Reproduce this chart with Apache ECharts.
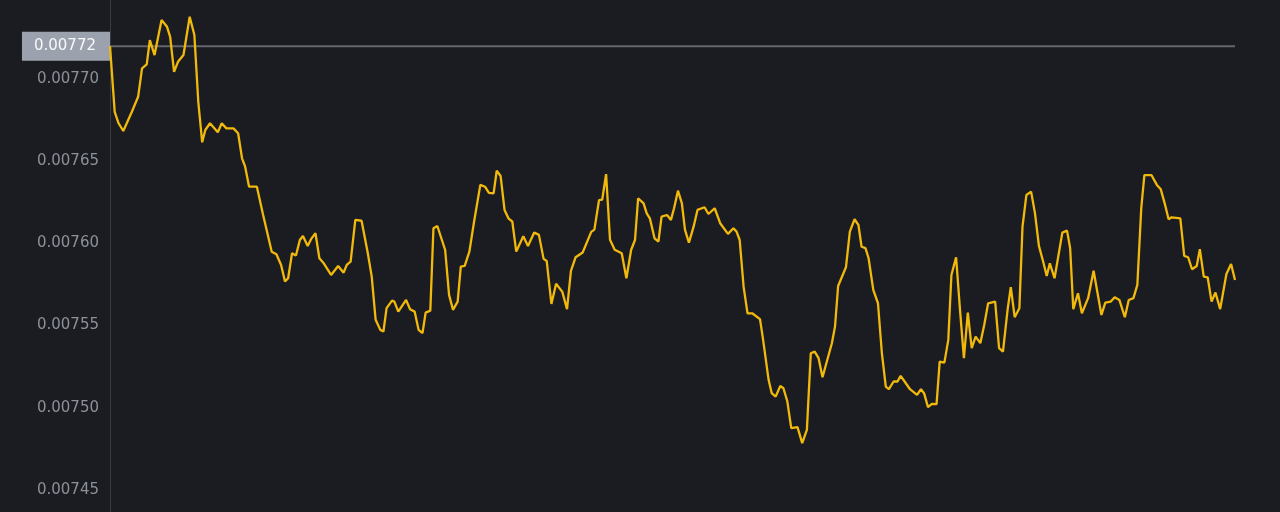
<!DOCTYPE html>
<html>
<head>
<meta charset="utf-8">
<title>price line</title>
<script src="https://cdn.jsdelivr.net/npm/echarts@6/dist/echarts.min.js"></script>
<style>
  html, body {
    margin: 0;
    padding: 0;
    background: #1b1c21;
  }
  #chart {
    width: 1280px;
    height: 512px;
  }
</style>
</head>
<body>
<div id="chart"></div>
<script>
// minutes since start of the 24h window
const minutes = [
  0, 6, 11, 17, 28, 36, 41, 47, 51, 57,
  66, 73, 77, 82, 87, 94, 102, 108, 113, 118,
  122, 128, 138, 143, 149, 158, 164, 169, 173, 178,
  188, 196, 207, 213, 219, 224, 228, 233, 238, 243,
  247, 253, 258, 263, 268, 273, 283, 292, 299, 303,
  308, 314, 322, 330, 335, 340, 346, 350, 354, 361,
  364, 369, 379, 384, 390, 395, 400, 404, 410, 414,
  419, 429, 434, 439, 445, 449, 454, 460, 466, 474,
  480, 485, 491, 495, 500, 505, 510, 515, 520, 529,
  535, 543, 549, 555, 559, 565, 571, 579, 585, 590,
  596, 605, 616, 620, 626, 630, 635, 640, 646, 655,
  661, 667, 672, 676, 683, 687, 691, 697, 702, 706,
  713, 718, 722, 727, 732, 736, 741, 747, 752, 761,
  766, 774, 781, 791, 798, 802, 806, 811, 816, 822,
  832, 836, 843, 847, 852, 858, 862, 867, 872, 880,
  886, 892, 897, 902, 907, 912, 924, 928, 932, 942,
  947, 953, 958, 962, 967, 971, 977, 983, 988, 993,
  997, 1003, 1008, 1012, 1018, 1024, 1033, 1038, 1042, 1047,
  1052, 1058, 1062, 1068, 1073, 1077, 1083, 1088, 1093, 1098,
  1103, 1108, 1114, 1119, 1124, 1133, 1138, 1143, 1149, 1153,
  1158, 1164, 1168, 1173, 1179, 1184, 1189, 1195, 1199, 1203,
  1209, 1219, 1225, 1229, 1233, 1239, 1244, 1252, 1259, 1269,
  1274, 1281, 1286, 1292, 1299, 1304, 1310, 1315, 1320, 1324,
  1333, 1340, 1345, 1350, 1355, 1359, 1370, 1375, 1380, 1385,
  1391, 1395, 1400, 1405, 1410, 1415, 1421, 1429, 1435, 1440
];

const prices = [
  0.0077200, 0.0076801, 0.0076731, 0.0076684, 0.0076801, 0.0076892, 0.0077065, 0.0077089, 0.0077237, 0.0077146,
  0.0077359, 0.0077318, 0.0077257, 0.0077044, 0.0077105, 0.0077146, 0.0077379, 0.0077268, 0.0076862, 0.0076615,
  0.0076690, 0.0076731, 0.0076676, 0.0076731, 0.0076700, 0.0076700, 0.0076670, 0.0076518, 0.0076467, 0.0076345,
  0.0076345, 0.0076173, 0.0075950, 0.0075934, 0.0075869, 0.0075768, 0.0075788, 0.0075940, 0.0075926, 0.0076021,
  0.0076045, 0.0075985, 0.0076031, 0.0076062, 0.0075910, 0.0075883, 0.0075808, 0.0075863, 0.0075822, 0.0075869,
  0.0075889, 0.0076143, 0.0076138, 0.0075940, 0.0075798, 0.0075535, 0.0075474, 0.0075464, 0.0075606, 0.0075652,
  0.0075646, 0.0075585, 0.0075656, 0.0075600, 0.0075585, 0.0075474, 0.0075454, 0.0075579, 0.0075591, 0.0076092,
  0.0076106, 0.0075960, 0.0075687, 0.0075596, 0.0075646, 0.0075859, 0.0075863, 0.0075950, 0.0076132, 0.0076356,
  0.0076345, 0.0076307, 0.0076305, 0.0076442, 0.0076410, 0.0076204, 0.0076153, 0.0076132, 0.0075950, 0.0076044,
  0.0075985, 0.0076067, 0.0076052, 0.0075906, 0.0075893, 0.0075632, 0.0075755, 0.0075705, 0.0075600, 0.0075833,
  0.0075916, 0.0075945, 0.0076070, 0.0076084, 0.0076264, 0.0076266, 0.0076422, 0.0076023, 0.0075962, 0.0075940,
  0.0075788, 0.0075960, 0.0076021, 0.0076275, 0.0076244, 0.0076183, 0.0076153, 0.0076031, 0.0076011, 0.0076163,
  0.0076173, 0.0076143, 0.0076214, 0.0076321, 0.0076244, 0.0076082, 0.0076005, 0.0076102, 0.0076204, 0.0076220,
  0.0076179, 0.0076214, 0.0076123, 0.0076058, 0.0076092, 0.0076072, 0.0076021, 0.0075737, 0.0075575, 0.0075575,
  0.0075539, 0.0075413, 0.0075170, 0.0075089, 0.0075068, 0.0075133, 0.0075119, 0.0075038, 0.0074876, 0.0074882,
  0.0074785, 0.0074866, 0.0075332, 0.0075342, 0.0075302, 0.0075186, 0.0075393, 0.0075494, 0.0075741, 0.0075855,
  0.0076072, 0.0076147, 0.0076112, 0.0075980, 0.0075971, 0.0075910, 0.0075717, 0.0075636, 0.0075332, 0.0075129,
  0.0075113, 0.0075160, 0.0075160, 0.0075194, 0.0075154, 0.0075113, 0.0075079, 0.0075113, 0.0075089, 0.0075004,
  0.0075024, 0.0075022, 0.0075281, 0.0075275, 0.0075413, 0.0075808, 0.0075916, 0.0075596, 0.0075302, 0.0075579,
  0.0075363, 0.0075433, 0.0075393, 0.0075504, 0.0075636, 0.0075646, 0.0075363, 0.0075342, 0.0075600, 0.0075734,
  0.0075551, 0.0075606, 0.0076102, 0.0076295, 0.0076315, 0.0076183, 0.0075985, 0.0075879, 0.0075802, 0.0075879,
  0.0075788, 0.0076066, 0.0076078, 0.0075971, 0.0075600, 0.0075697, 0.0075575, 0.0075667, 0.0075834, 0.0075565,
  0.0075640, 0.0075646, 0.0075673, 0.0075656, 0.0075551, 0.0075656, 0.0075667, 0.0075748, 0.0076214, 0.0076416,
  0.0076416, 0.0076356, 0.0076329, 0.0076244, 0.0076147, 0.0076159, 0.0076153, 0.0075924, 0.0075916, 0.0075843,
  0.0075863, 0.0075965, 0.0075798, 0.0075794, 0.0075646, 0.0075701, 0.0075600, 0.0075814, 0.0075875, 0.0075778
];

const yTicks = [0.00745, 0.0075, 0.00755, 0.0076, 0.00765, 0.0077];
// opening price, drawn as a flat reference line
const refPrice = 0.00772;

const myChart = echarts.init(document.getElementById("chart"));
myChart.setOption({
  backgroundColor: "#1b1c21",
  animation: false,
  grid: {
    left: 110,
    right: 45,
    top: 0,
    bottom: 0,
  },
  xAxis: {
    type: "value",
    min: 0,
    max: 1440,
    show: false,
  },
  yAxis: {
    type: "value",
    min: 0.0074366,
    max: 0.0077481,
    axisLine: {
      show: true,
      lineStyle: { color: "#363942", width: 1 },
    },
    axisTick: { show: false },
    splitLine: { show: false },
    axisLabel: {
      customValues: yTicks,
      color: "#8c9099",
      fontFamily: "DejaVu Sans",
      fontSize: 15,
      margin: 11,
      formatter: (v) => v.toFixed(5),
    },
  },
  series: [
    {
      // reference line + price tag on the left
      type: "line",
      z: 1,
      silent: true,
      symbol: "circle",
      symbolSize: 0,
      lineStyle: { color: "#62656d", width: 2 },
      itemStyle: { color: "#62656d" },
      data: [
        {
          value: [minutes[0], refPrice],
          label: {
            show: true,
            position: "left",
            distance: 0,
            formatter: () => refPrice.toFixed(5),
            color: "#f7f8fa",
            fontFamily: "DejaVu Sans",
            fontSize: 15,
            backgroundColor: "#9ca2ad",
            padding: [7, 14, 7, 12],
          },
        },
        [minutes[minutes.length - 1], refPrice],
      ],
    },
    {
      type: "line",
      z: 2,
      data: minutes.map((m, i) => [m, prices[i]]),
      showSymbol: false,
      clip: false,
      lineStyle: { color: "#f0b90b", width: 2.3 },
      itemStyle: { color: "#f0b90b" },
    },
  ],
});
</script>
</body>
</html>
